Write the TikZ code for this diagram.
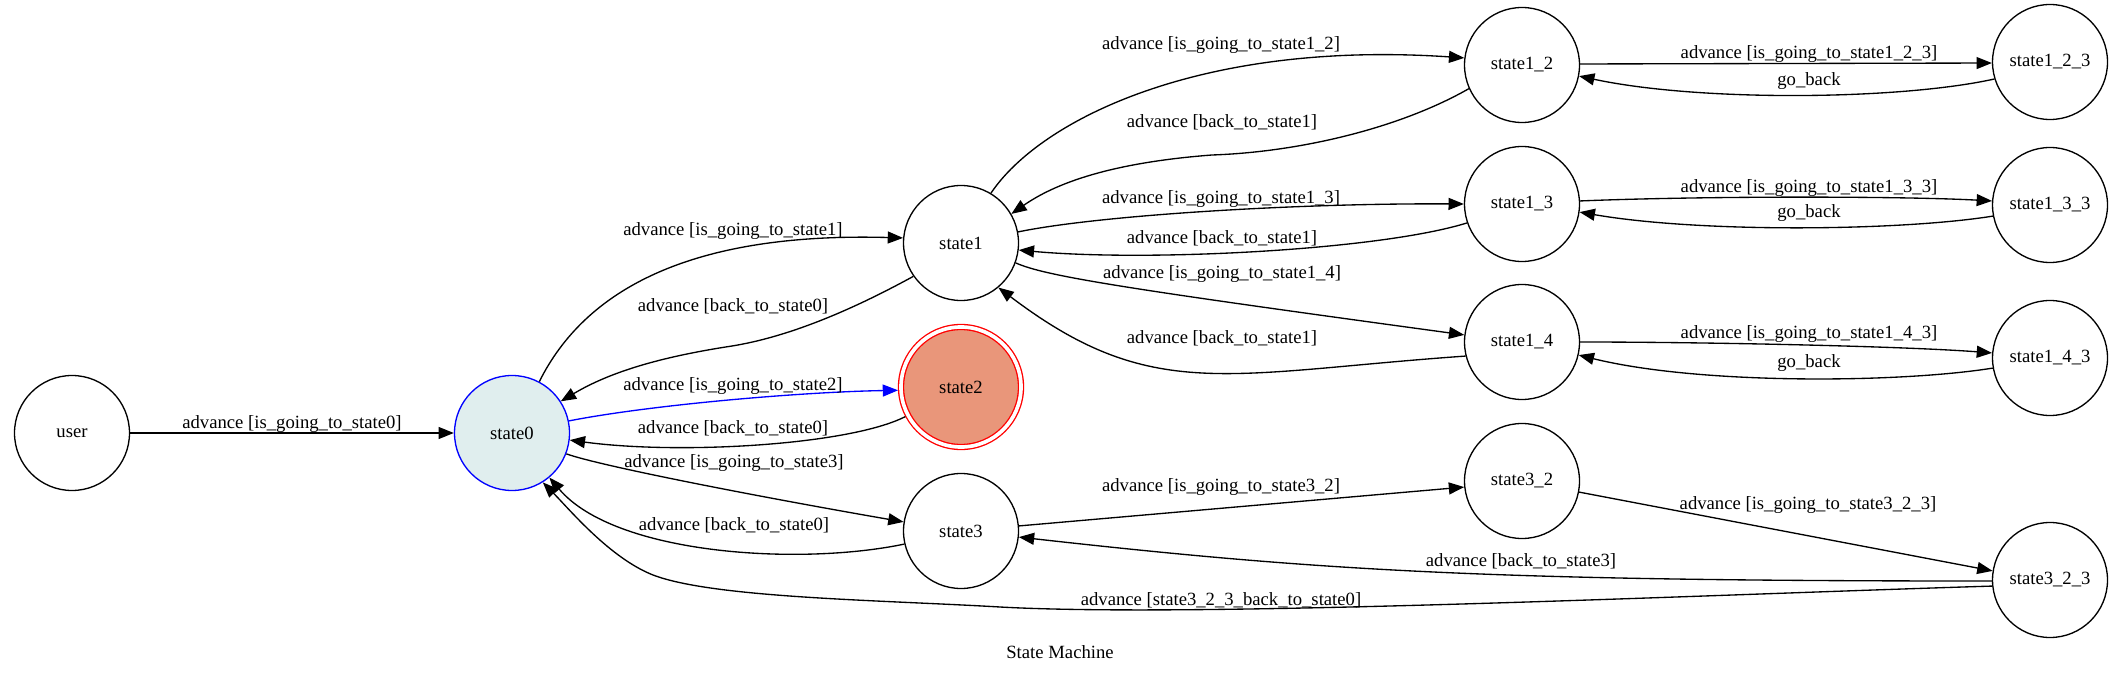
\documentclass[tikz,border=0pt]{standalone}
\usepackage{fontspec}
\setmainfont{Liberation Serif}
\usetikzlibrary{arrows.meta}
\definecolor{gvazure}{HTML}{E0EEEE}
\definecolor{gvsalmon}{HTML}{E9967A}
\tikzset{
  st/.style={circle, draw, line width=1pt, minimum size=86.25pt, inner sep=0pt,
    font=\fontsize{14pt}{16pt}\selectfont},
  edge/.style={line width=1pt, -{Triangle[length=11.5pt,width=9pt]}},
  lab/.style={inner sep=0pt, font=\fontsize{14pt}{16pt}\selectfont}
}
\begin{document}
\begin{tikzpicture}[x=0.75pt, y=-0.75pt]
\useasboundingbox (0,0) rectangle (2122,673);
% nodes
\node[st] (user) at (72,433) {user};
\node[st, draw=blue, fill=gvazure] (state0) at (512,433) {state0};
\node[st] (state1) at (961,243) {state1};
\node[st, draw=red, double=white, double distance=2.75pt, fill=gvsalmon,
      minimum size=90pt, outer sep=2.25pt] (state2) at (961,387) {state2};
\node[st] (state3) at (961,531) {state3};
\node[st] (state1_2) at (1522,65) {state1\_2};
\node[st] (state1_3) at (1522,204) {state1\_3};
\node[st] (state1_4) at (1522,342) {state1\_4};
\node[st] (state1_2_3) at (2050,62) {state1\_2\_3};
\node[st] (state1_3_3) at (2050,205) {state1\_3\_3};
\node[st] (state1_4_3) at (2050,358) {state1\_4\_3};
\node[st] (state3_2) at (1522,481) {state3\_2};
\node[st] (state3_2_3) at (2050,580) {state3\_2\_3};
% edges
\draw[edge] (user.east) -- (state0.west);
\draw[edge] (state0.62) .. controls (585,290) and (690,232) .. (state1.175);
\draw[edge] (state1.215) .. controls (870,300) and (800,335) .. (732,346)
            .. controls (660,357) and (610,372) .. (state0.33);
\draw[edge, blue] (state0.12) .. controls (650,405) and (800,392) .. (state2.183);
\draw[edge] (state2.208) .. controls (850,445) and (680,455) .. (state0.353);
\draw[edge] (state0.339) .. controls (600,466) and (760,497) .. (state3.171);
\draw[edge] (state3.193) .. controls (800,566) and (615,555) .. (state0.310);
\draw[edge] (state3_2_3.186) .. controls (1700,595) and (1200,618) .. (1000,607)
            .. controls (880,600) and (713,598) .. (653,575)
            .. controls (610,558) and (570,510) .. (state0.302);
\draw[edge] (state1.59) .. controls (1040,120) and (1200,40) .. (state1_2.173);
\draw[edge] (state1_2.204) .. controls (1400,128) and (1300,152) .. (1212,155)
            .. controls (1120,162) and (1060,180) .. (state1.30);
\draw[edge] (state1.11) .. controls (1100,215) and (1300,203) .. (state1_3.180);
\draw[edge] (state1_3.199) .. controls (1380,250) and (1150,262) .. (state1.353);
\draw[edge] (state1.340) .. controls (1045,276) and (1120,288) .. (state1_4.173);
\draw[edge] (state1_4.194) .. controls (1226,373) and (1152,404) .. (state1.310);
\draw[edge] (state1_2.1) -- (state1_2_3.181);
\draw[edge] (state1_2_3.197) .. controls (1900,100) and (1700,102) .. (state1_2.349);
\draw[edge] (state1_3.3) .. controls (1700,196) and (1900,196) .. (state1_3_3.176);
\draw[edge] (state1_3_3.191) .. controls (1900,231) and (1700,233) .. (state1_3.352);
\draw[edge] (state1_4.0) .. controls (1700,342) and (1900,346) .. (state1_4_3.175);
\draw[edge] (state1_4_3.190) .. controls (1900,383) and (1700,385) .. (state1_4.347);
\draw[edge] (state3.5) -- (state3_2.186);
\draw[edge] (state3_2.349) -- (state3_2_3.171);
\draw[edge] (state3_2_3.181) .. controls (1490,581) and (1322,571) .. (state3.354);
% labels
\node[lab] (l1) at (292,424) {advance [is\_going\_to\_state0]};
\node[lab] (l2) at (733,231) {advance [is\_going\_to\_state1]};
\node[lab] (l3) at (733,306) {advance [back\_to\_state0]};
\node[lab] (l4) at (733,386) {advance [is\_going\_to\_state2]};
\node[lab] (l5) at (733,428) {advance [back\_to\_state0]};
\node[lab] (l6) at (734,463) {advance [is\_going\_to\_state3]};
\node[lab] (l7) at (734,525) {advance [back\_to\_state0]};
\node[lab] (l8) at (1221,600) {advance [state3\_2\_3\_back\_to\_state0]};
\node[lab] (l9) at (1221,45) {advance [is\_going\_to\_state1\_2]};
\node[lab] (l10) at (1222,122) {advance [back\_to\_state1]};
\node[lab] (l11) at (1221,199) {advance [is\_going\_to\_state1\_3]};
\node[lab] (l12) at (1222,238) {advance [back\_to\_state1]};
\node[lab] (l13) at (1222,274) {advance [is\_going\_to\_state1\_4]};
\node[lab] (l14) at (1222,338) {advance [back\_to\_state1]};
\node[lab] (l15) at (1809,54) {advance [is\_going\_to\_state1\_2\_3]};
\node[lab] (l16) at (1809,81) {go\_back};
\node[lab] (l17) at (1809,188) {advance [is\_going\_to\_state1\_3\_3]};
\node[lab] (l18) at (1809,213) {go\_back};
\node[lab] (l19) at (1809,334) {advance [is\_going\_to\_state1\_4\_3]};
\node[lab] (l20) at (1809,363) {go\_back};
\node[lab] (l21) at (1221,487) {advance [is\_going\_to\_state3\_2]};
\node[lab] (l22) at (1808,505) {advance [is\_going\_to\_state3\_2\_3]};
\node[lab] (l23) at (1521,561) {advance [back\_to\_state3]};
\node[lab] (title) at (1060,652) {State Machine};
\end{tikzpicture}
\end{document}
